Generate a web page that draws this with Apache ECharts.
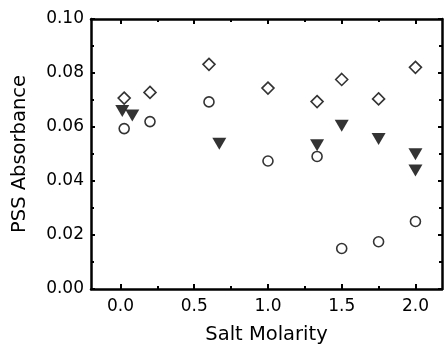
<!DOCTYPE html>
<html>
<head>
<meta charset="utf-8">
<script src="https://cdn.jsdelivr.net/npm/echarts@6/dist/echarts.min.js"></script>
<style>
  html, body { margin: 0; padding: 0; background: #fff; }
  #main { width: 445px; height: 350px; }
</style>
</head>
<body>
<div id="main"></div>
<script>
// diamonds (open)
var diamondX = [0.025, 0.2, 0.6, 1.0, 1.333, 1.5, 1.75, 2.0];
var diamondY = [0.0707, 0.0728, 0.0832, 0.0744, 0.0694, 0.0776, 0.0704, 0.0821];
// circles (open)
var circleX = [0.025, 0.2, 0.6, 1.0, 1.333, 1.5, 1.75, 2.0];
var circleY = [0.0594, 0.0620, 0.0693, 0.0474, 0.0491, 0.0150, 0.0175, 0.0250];
// triangles (filled, pointing down)
var triX = [0.012, 0.08, 0.67, 1.333, 1.5, 1.75, 2.0, 2.0];
var triY = [0.0659, 0.0643, 0.0538, 0.0532, 0.0605, 0.0556, 0.0499, 0.0439];

var xMajor = [0, 0.5, 1.0, 1.5, 2.0];
var xMinor = [0.25, 0.75, 1.25, 1.75];

function pairs(xs, ys) {
    var out = [];
    for (var i = 0; i < xs.length; i++) out.push([xs[i], ys[i]]);
    return out;
}

var font = 'DejaVu Sans, sans-serif';
var lineStyle = { color: '#000', width: 2.5 };

function xAxisCfg(pos, ticks, len, withLine, withLabel) {
    return {
        type: 'value', position: pos, min: -0.2, max: 2.18,
        axisLine: { show: withLine, onZero: false, lineStyle: lineStyle },
        axisTick: { show: true, inside: true, length: len, customValues: ticks,
                    lineStyle: { color: '#000', width: 2 } },
        axisLabel: withLabel ? {
            show: true, customValues: ticks, margin: 9,
            color: '#000', fontSize: 17, fontFamily: font,
            formatter: function (v) { return v.toFixed(1); }
        } : { show: false },
        splitLine: { show: false }
    };
}

function yAxisCfg(pos, withLabel) {
    return {
        type: 'value', position: pos, min: 0, max: 0.1, interval: 0.02,
        axisLine: { show: true, onZero: false, lineStyle: lineStyle },
        axisTick: { show: true, inside: true, length: 4, lineStyle: { color: '#000', width: 2 } },
        minorTick: { show: true, splitNumber: 2, length: 3, lineStyle: { color: '#000', width: 2 } },
        axisLabel: withLabel ? {
            show: true, margin: 7, color: '#000', fontSize: 17, fontFamily: font,
            formatter: function (v) { return v.toFixed(2); }
        } : { show: false },
        splitLine: { show: false }
    };
}

var myChart = echarts.init(document.getElementById('main'));
var bottomAxis = xAxisCfg('bottom', xMajor, 5, true, true);
bottomAxis.name = 'Salt Molarity';
bottomAxis.nameLocation = 'middle';
bottomAxis.nameGap = 36;
bottomAxis.nameTextStyle = { color: '#000', fontSize: 19.5, fontFamily: font };

var leftAxis = yAxisCfg('left', true);
leftAxis.name = 'PSS Absorbance';
leftAxis.nameLocation = 'middle';
leftAxis.nameGap = 61;
leftAxis.nameTextStyle = { color: '#000', fontSize: 19.5, fontFamily: font };

var option = {
    backgroundColor: '#fff',
    animation: false,
    grid: { left: 91, right: 3, top: 19, bottom: 55 },
    xAxis: [
        bottomAxis,
        xAxisCfg('bottom', xMinor, 3, false, false),
        xAxisCfg('top', xMajor, 5, true, false),
        xAxisCfg('top', xMinor, 3, false, false)
    ],
    yAxis: [leftAxis, yAxisCfg('right', false)],
    series: [
        {
            type: 'scatter', data: pairs(diamondX, diamondY),
            symbol: 'diamond', symbolSize: [12, 12],
            itemStyle: { color: '#fff', borderColor: '#000', borderWidth: 1.6 }
        },
        {
            type: 'scatter', data: pairs(circleX, circleY),
            symbol: 'circle', symbolSize: 10,
            itemStyle: { color: '#fff', borderColor: '#000', borderWidth: 1.6 }
        },
        {
            type: 'scatter', data: pairs(triX, triY),
            symbol: 'triangle', symbolRotate: 180, symbolSize: [14, 12],
            itemStyle: { color: '#000' }
        }
    ]
};
myChart.setOption(option);
</script>
</body>
</html>
